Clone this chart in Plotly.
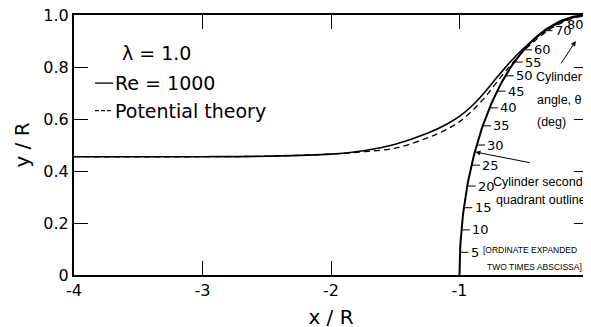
import numpy as np
import plotly.graph_objects as go

# ---- data ----
x_re1000 = [-4.0, -3.0, -2.5, -2.0, -1.75, -1.5, -1.25, -1.1, -1.0, -0.9, -0.8, -0.7, -0.6, -0.5, -0.4, -0.3, -0.2, -0.1, 0.0]
y_re1000 = [0.455, 0.455, 0.457, 0.465, 0.478, 0.503, 0.545, 0.58, 0.61, 0.652, 0.705, 0.765, 0.822, 0.872, 0.915, 0.95, 0.975, 0.992, 1.0]

x_potential = [-4.0, -3.0, -2.5, -2.0, -1.8, -1.5, -1.25, -1.1, -1.0, -0.9, -0.8, -0.7, -0.6, -0.5, -0.4, -0.3, -0.2, -0.1, 0.0]
y_potential = [0.455, 0.455, 0.457, 0.465, 0.472, 0.488, 0.527, 0.56, 0.59, 0.632, 0.685, 0.748, 0.808, 0.862, 0.907, 0.944, 0.971, 0.99, 0.998]

# cylinder (unit circle, second quadrant) and labelled angles in degrees
cyl_angles_deg = list(range(0, 91))
angle_labels = [5, 10, 15, 20, 25, 30, 35, 40, 45, 50, 55, 60, 70]
angle_label_top = 80

x_ticks = [-4, -3, -2, -1, 0]
x_ticktext = ["-4", "-3", "-2", "-1", "0"]
y_ticks = [0, 0.2, 0.4, 0.6, 0.8, 1.0]
y_ticktext = ["0", "0.2", "0.4", "0.6", "0.8", "1.0"]

FONT = "DejaVu Sans, Arial, sans-serif"
NARROW = "Liberation Sans, Arial, sans-serif"

th = np.radians(cyl_angles_deg)
cyl_x = -np.cos(th)
cyl_y = np.sin(th)

fig = go.Figure()
fig.add_trace(go.Scatter(x=x_potential, y=y_potential, mode="lines", line_shape="spline",
                         line=dict(color="black", width=1.3, dash="6px,4px"),
                         name="Potential theory", showlegend=False))
fig.add_trace(go.Scatter(x=x_re1000, y=y_re1000, mode="lines", line_shape="spline",
                         line=dict(color="black", width=1.6), name="Re = 1000", showlegend=False))
fig.add_trace(go.Scatter(x=cyl_x, y=cyl_y, mode="lines", line=dict(color="black", width=2),
                         name="Cylinder", showlegend=False))

# angle label dashes
dx, dy = [], []
for a in angle_labels:
    r = np.radians(a)
    x0 = -np.cos(r)
    dx += [x0, x0 + 0.065, None]
    dy += [np.sin(r), np.sin(r), None]
fig.add_trace(go.Scatter(x=dx, y=dy, mode="lines", line=dict(color="black", width=1),
                         showlegend=False, hoverinfo="skip"))

annotations = []
for a in angle_labels:
    r = np.radians(a)
    annotations.append(dict(x=-np.cos(r) + 0.068, y=np.sin(r), text=str(a), showarrow=False,
                            xanchor="left", yanchor="middle", font=dict(family=FONT, size=13, color="black")))
annotations.append(dict(x=-0.1, y=0.962, text=str(angle_label_top), showarrow=False,
                        xanchor="center", yanchor="middle", font=dict(family=FONT, size=13, color="black")))

# text notes
def note(x, y, t, size=12.5, fam=NARROW):
    annotations.append(dict(x=x, y=y, text=t, showarrow=False, xanchor="center", yanchor="middle",
                            font=dict(family=fam, size=size, color="black")))

note(-0.225, 0.762, "Cylinder")
note(-0.225, 0.673, "angle, θ")
note(-0.287, 0.588, "(deg)")
note(-0.388, 0.358, "Cylinder second")
note(-0.364, 0.288, "quadrant outline")
note(-0.45, 0.096, "[ORDINATE EXPANDED", size=8.5)
note(-0.418, 0.031, "TWO TIMES ABSCISSA]", size=8.5)

# arrows
annotations.append(dict(x=-0.095, y=0.9, ax=-0.217, ay=0.808, xref="x", yref="y", axref="x", ayref="y",
                        text="", showarrow=True, arrowhead=2, arrowsize=1, arrowwidth=1, arrowcolor="black"))
annotations.append(dict(x=-0.876, y=0.473, ax=-0.442, ay=0.431, xref="x", yref="y", axref="x", ayref="y",
                        text="", showarrow=True, arrowhead=2, arrowsize=1, arrowwidth=1, arrowcolor="black"))

# legend text
annotations.append(dict(x=0.089, y=0.854, xref="paper", yref="paper", text="λ = 1.0", showarrow=False,
                        xanchor="left", yanchor="middle", font=dict(family=FONT, size=19, color="black")))
annotations.append(dict(x=0.076, y=0.738, xref="paper", yref="paper", text="Re = 1000", showarrow=False,
                        xanchor="left", yanchor="middle", font=dict(family=FONT, size=19, color="black")))
annotations.append(dict(x=0.076, y=0.632, xref="paper", yref="paper", text="Potential theory", showarrow=False,
                        xanchor="left", yanchor="middle", font=dict(family=FONT, size=19, color="black")))

shapes = [
    dict(type="line", xref="paper", yref="paper", x0=0.041, x1=0.076, y0=0.738, y1=0.738,
         line=dict(color="black", width=1.3)),
    dict(type="line", xref="paper", yref="paper", x0=0.041, x1=0.076, y0=0.632, y1=0.632,
         line=dict(color="black", width=1.3, dash="4px,2px")),
]

axis_common = dict(showline=True, linecolor="black", linewidth=2, mirror="ticks", ticks="inside",
                   ticklen=14, tickwidth=1.3, tickcolor="black", showgrid=False, zeroline=False,
                   automargin=False, ticklabeloverflow="allow",
                   tickfont=dict(family=FONT, size=16, color="black"))

# the page body adds an 8px offset, so margins are shifted to compensate
fig.update_layout(
    width=591, height=327,
    margin=dict(l=66, r=11, t=7, b=60),
    paper_bgcolor="white", plot_bgcolor="white",
    xaxis=dict(range=[-4, 0], tickvals=x_ticks, ticktext=x_ticktext,
               title=dict(text="x / R", font=dict(family=FONT, size=20, color="black"), standoff=11),
               **axis_common),
    yaxis=dict(range=[0, 1], tickvals=y_ticks, ticktext=y_ticktext,
               title=dict(text="y / R", font=dict(family=FONT, size=20, color="black"), standoff=8),
               **axis_common),
    annotations=annotations, shapes=shapes, showlegend=False,
)

fig.write_html("out.html", config={"displayModeBar": False})
